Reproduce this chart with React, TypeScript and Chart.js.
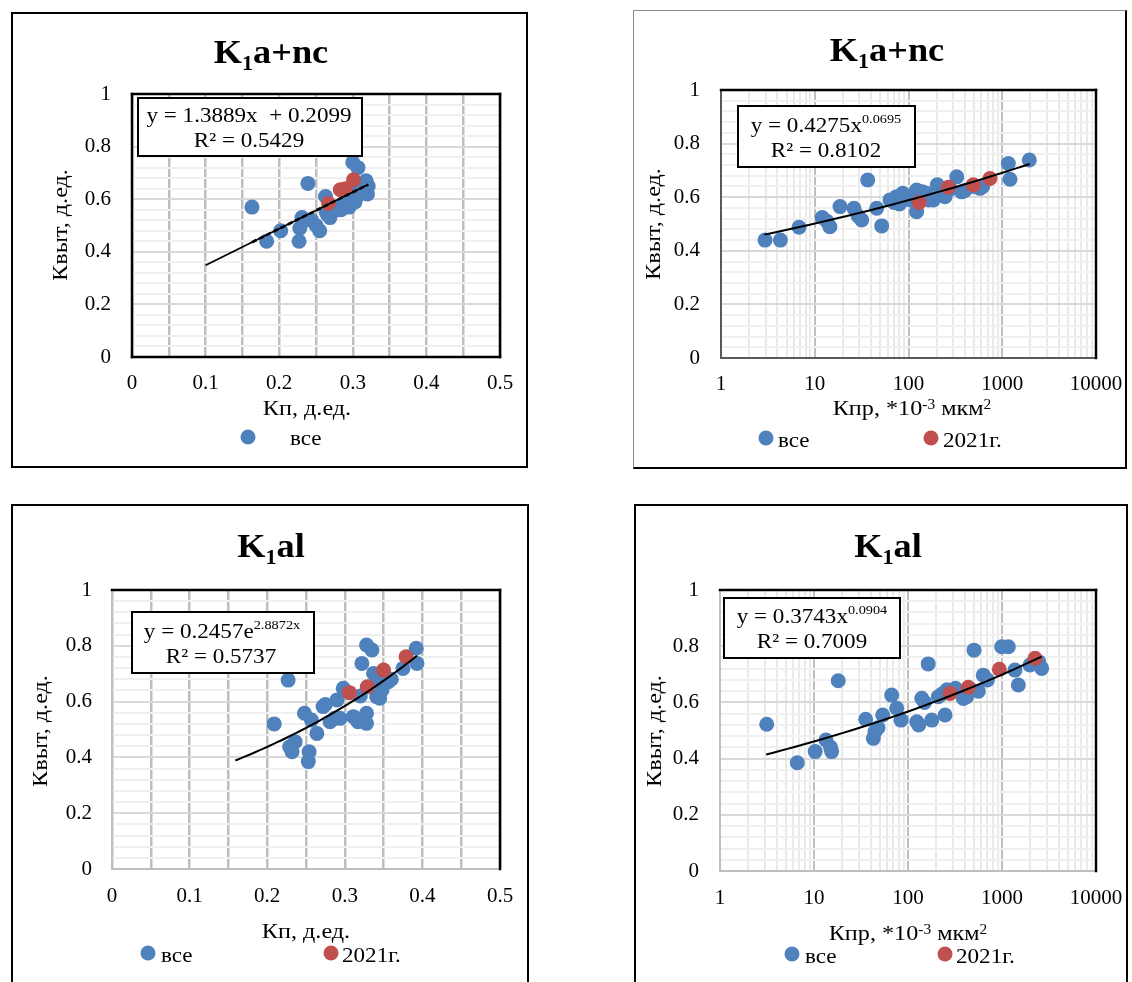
import React, { useEffect, useRef } from 'react';
import { Chart, registerables } from 'chart.js';

Chart.register(...registerables);

const FONT = '"Liberation Serif", "Times New Roman", Times, serif';
const BLUE = '#4F81BD';
const RED = '#C0504D';
const SX = 1.1;

// ---------------- data ----------------
// K1a+nc : Kп vs Kвыт
const TL_ALL_X = [0.163, 0.183, 0.202, 0.227, 0.228, 0.231, 0.235, 0.239, 0.244, 0.25, 0.255, 0.263, 0.264, 0.266, 0.269, 0.272, 0.275, 0.28, 0.284, 0.287, 0.291, 0.295, 0.298, 0.3, 0.303, 0.305, 0.307, 0.31, 0.314, 0.318, 0.32, 0.321];
const TL_ALL_Y = [0.57, 0.44, 0.48, 0.44, 0.49, 0.53, 0.52, 0.66, 0.52, 0.5, 0.48, 0.61, 0.55, 0.54, 0.53, 0.56, 0.57, 0.56, 0.56, 0.58, 0.6, 0.57, 0.61, 0.74, 0.59, 0.63, 0.72, 0.62, 0.64, 0.67, 0.62, 0.65];
const TL_RED_X = [0.267, 0.283, 0.29, 0.301];
const TL_RED_Y = [0.584, 0.636, 0.64, 0.674];

// K1a+nc : Kпр vs Kвыт
const TR_ALL_X = [2.95, 4.3, 6.8, 12.0, 13.5, 14.5, 18.6, 26.2, 29, 31.7, 36.7, 45.8, 51.8, 63.5, 70, 74.8, 80, 86.7, 95, 105, 115, 122, 122, 140, 156, 165, 184, 203, 225, 245, 280, 327, 369, 400, 480, 579, 620, 1161, 1210, 1944];
const TR_ALL_Y = [0.44, 0.44, 0.488, 0.524, 0.51, 0.49, 0.565, 0.559, 0.53, 0.515, 0.664, 0.559, 0.493, 0.59, 0.58, 0.602, 0.575, 0.615, 0.6, 0.59, 0.61, 0.627, 0.546, 0.62, 0.615, 0.59, 0.59, 0.646, 0.61, 0.602, 0.63, 0.676, 0.62, 0.625, 0.64, 0.633, 0.64, 0.726, 0.667, 0.739];
const TR_RED_X = [130, 266, 491, 740];
const TR_RED_Y = [0.58, 0.637, 0.646, 0.67];

// K1al : Kп vs Kвыт
const BL_ALL_X = [0.209, 0.227, 0.229, 0.232, 0.236, 0.248, 0.253, 0.254, 0.257, 0.264, 0.272, 0.275, 0.281, 0.287, 0.29, 0.294, 0.298, 0.3, 0.311, 0.317, 0.32, 0.322, 0.328, 0.328, 0.328, 0.335, 0.337, 0.341, 0.341, 0.345, 0.348, 0.356, 0.36, 0.375, 0.392, 0.393];
const BL_ALL_Y = [0.52, 0.677, 0.438, 0.42, 0.456, 0.558, 0.385, 0.42, 0.534, 0.486, 0.582, 0.59, 0.528, 0.54, 0.606, 0.54, 0.648, 0.64, 0.546, 0.528, 0.62, 0.737, 0.803, 0.522, 0.558, 0.785, 0.701, 0.618, 0.68, 0.612, 0.642, 0.671, 0.68, 0.719, 0.791, 0.737];
const BL_RED_X = [0.306, 0.329, 0.35, 0.379];
const BL_RED_Y = [0.632, 0.653, 0.713, 0.761];

// K1al : Kпр vs Kвыт
const BR_ALL_X = [3.14, 6.64, 10.3, 13.4, 15.4, 15.0, 18.1, 35.5, 42.8, 44.6, 48, 53.8, 67, 75.8, 84.3, 124, 130, 140, 150, 164, 179, 210, 230, 248, 260, 303, 320, 388, 420, 475, 504, 560, 632, 700, 993, 1167, 1374, 1493, 1986, 2450, 2644];
const BR_ALL_Y = [0.522, 0.385, 0.425, 0.466, 0.425, 0.44, 0.677, 0.54, 0.472, 0.496, 0.51, 0.555, 0.626, 0.579, 0.537, 0.531, 0.52, 0.615, 0.6, 0.737, 0.537, 0.62, 0.63, 0.555, 0.645, 0.644, 0.65, 0.614, 0.62, 0.644, 0.786, 0.64, 0.697, 0.68, 0.798, 0.798, 0.715, 0.662, 0.733, 0.745, 0.721];
const BR_RED_X = [280, 438, 937, 2244];
const BR_RED_Y = [0.632, 0.654, 0.718, 0.757];

// trendline equations (as printed on the chart) and their x ranges
const TL_FIT = { kind: 'lin', a: 1.3889, b: 0.2099 };
const TR_FIT = { kind: 'pow', a: 0.4275, b: 0.0695 };
const BL_FIT = { kind: 'exp', a: 0.2457, b: 2.8872 };
const BR_FIT = { kind: 'pow', a: 0.3743, b: 0.0904 };
const TL_TREND_RANGE = [0.1, 0.321];
const TL_TREND_DASH_RANGE = [0.163, 0.321];
const TR_TREND_RANGE = [2.9, 1960];
const BL_TREND_RANGE = [0.159, 0.393];
const BR_TREND_RANGE = [3.1, 2640];

// tick labels
const Y_LABELS = ['0', '0.2', '0.4', '0.6', '0.8', '1'];
const KP_LABELS = ['0', '0.1', '0.2', '0.3', '0.4', '0.5'];
const KPR_LABELS = ['1', '10', '100', '1000', '10000'];

const Y_TICKS = Array.from({ length: 26 }, (_, i) => Math.round(i * 4) / 100);
const KP_TICKS = Array.from({ length: 11 }, (_, i) => Math.round(i * 5) / 100);
const KPR_TICKS: number[] = [];
KPR_LABELS.forEach((lbl, d) => {
  const base = Number(lbl);
  if (d < KPR_LABELS.length - 1) for (let m = 1; m <= 9; m++) KPR_TICKS.push(m * base);
  else KPR_TICKS.push(base);
});

// ---------------- helpers ----------------
type Seg = { t: string; size: number; dy?: number; bold?: boolean };
const sg = (t: string, size = 21, dy = 0, bold = false): Seg => ({ t, size, dy, bold });

function fitY(fit: any, x: number) {
  if (fit.kind === 'lin') return fit.a * x + fit.b;
  if (fit.kind === 'pow') return fit.a * Math.pow(x, fit.b);
  return fit.a * Math.exp(fit.b * x);
}
function trendPts(fit: any, range: number[], log: boolean) {
  const n = fit.kind === 'lin' ? 2 : 40;
  const out: { x: number; y: number }[] = [];
  for (let i = 0; i < n; i++) {
    const f = i / (n - 1);
    const x = log
      ? Math.pow(10, Math.log10(range[0]) + f * (Math.log10(range[1]) - Math.log10(range[0])))
      : range[0] + f * (range[1] - range[0]);
    out.push({ x, y: fitY(fit, x) });
  }
  return out;
}
const pts = (xs: number[], ys: number[]) => xs.map((x, i) => ({ x, y: ys[i] }));

function fontOf(s: Seg) {
  return `${s.bold ? 'bold ' : ''}${s.size}px ${FONT}`;
}
function drawRich(ctx: CanvasRenderingContext2D, segs: Seg[], x: number, y: number, align: 'left' | 'center', rotate = false, baseline: CanvasTextBaseline = 'alphabetic') {
  ctx.save();
  ctx.textAlign = 'left';
  ctx.textBaseline = baseline;
  ctx.fillStyle = '#000';
  const widths = segs.map((s) => {
    ctx.font = fontOf(s);
    return ctx.measureText(s.t).width;
  });
  const total = widths.reduce((p, c) => p + c, 0);
  ctx.translate(x, y);
  if (rotate) ctx.rotate(-Math.PI / 2);
  ctx.scale(SX, 1);
  let cx = align === 'center' ? -total / 2 : 0;
  segs.forEach((s, i) => {
    ctx.font = fontOf(s);
    ctx.fillText(s.t, cx, s.dy || 0);
    cx += widths[i];
  });
  ctx.restore();
}

const titleSegs = (rest: string) => [sg('K', 33, 0, true), sg('1', 20, 7, true), sg(rest, 33, 0, true)];
const KP_TITLE = [sg('Кп, д.ед.', 22)];
const KPR_TITLE = [sg('Кпр, *10', 22), sg('-3', 14, -6), sg(' мкм', 22), sg('2', 14, -6)];
const Y_TITLE = [sg('Квыт, д.ед.', 22)];

// ---------------- panel specs (page coordinates) ----------------
const PANELS: any[] = [
  {
    box: { x: 11, y: 12, w: 517, h: 456 }, boxBorder: { t: '2px solid #000', r: '2px solid #000', b: '2px solid #000', l: '2px solid #000' },
    area: { l: 132, t: 94, r: 500, b: 357 }, frame: ['#000', '#000', '#000', '#000'],
    log: false, xTickPad: 14, yTickPad: 21,
    all: pts(TL_ALL_X, TL_ALL_Y), red: pts(TL_RED_X, TL_RED_Y),
    trends: [
      { data: trendPts(TL_FIT, TL_TREND_RANGE, false), dash: [], width: 1.8 },
      { data: trendPts(TL_FIT, TL_TREND_DASH_RANGE, false), dash: [5, 3], width: 2.6 },
    ],
    title: { segs: titleSegs('a+nc'), x: 271, y: 63 },
    eqBox: [138, 98, 362, 156],
    eq: [
      { segs: [sg('y = 1.3889x  + 0.2099')], x: 249, y: 122 },
      { segs: [sg('R² = 0.5429')], x: 249, y: 147 },
    ],
    xTitle: { segs: KP_TITLE, x: 307, y: 415 },
    yTitle: { x: 61, y: 225 },
    legend: [{ color: BLUE, label: 'все', mx: 248, my: 437, tx: 290, ty: 445 }],
  },
  {
    box: { x: 633, y: 10, w: 494, h: 459 }, boxBorder: { t: '1px solid #8c8c8c', r: '2px solid #000', b: '2px solid #000', l: '1px solid #8c8c8c' },
    area: { l: 721, t: 90, r: 1096, b: 358 }, frame: ['#000', '#000', '#595959', '#595959'],
    log: true, xTickPad: 14, yTickPad: 21,
    all: pts(TR_ALL_X, TR_ALL_Y), red: pts(TR_RED_X, TR_RED_Y),
    trends: [{ data: trendPts(TR_FIT, TR_TREND_RANGE, true), dash: [], width: 2 }],
    title: { segs: titleSegs('a+nc'), x: 887, y: 61 },
    eqBox: [738, 106, 915, 167],
    eq: [
      { segs: [sg('y = 0.4275x'), sg('0.0695', 13, -9)], x: 826, y: 132 },
      { segs: [sg('R² = 0.8102')], x: 826, y: 157 },
    ],
    xTitle: { segs: KPR_TITLE, x: 912, y: 415 },
    yTitle: { x: 654, y: 224 },
    legend: [
      { color: BLUE, label: 'все', mx: 766, my: 438, tx: 778, ty: 447 },
      { color: RED, label: '2021г.', mx: 931, my: 438, tx: 943, ty: 447 },
    ],
  },
  {
    box: { x: 11, y: 504, w: 518, h: 490 }, boxBorder: { t: '2px solid #000', r: '2px solid #000', b: '2px solid #000', l: '2px solid #000' },
    area: { l: 112, t: 590, r: 500, b: 869 }, frame: ['#000', '#000', '#BFBFBF', '#BFBFBF'],
    log: false, xTickPad: 15, yTickPad: 20,
    all: pts(BL_ALL_X, BL_ALL_Y), red: pts(BL_RED_X, BL_RED_Y),
    trends: [{ data: trendPts(BL_FIT, BL_TREND_RANGE, false), dash: [], width: 2 }],
    title: { segs: titleSegs('al'), x: 271, y: 557 },
    eqBox: [132, 612, 314, 673],
    eq: [
      { segs: [sg('y = 0.2457e'), sg('2.8872x', 13, -9)], x: 222, y: 638 },
      { segs: [sg('R² = 0.5737')], x: 221, y: 663 },
    ],
    xTitle: { segs: KP_TITLE, x: 306, y: 938 },
    yTitle: { x: 41, y: 731 },
    legend: [
      { color: BLUE, label: 'все', mx: 148, my: 953, tx: 161, ty: 962 },
      { color: RED, label: '2021г.', mx: 331, my: 953, tx: 342, ty: 962 },
    ],
  },
  {
    box: { x: 634, y: 504, w: 494, h: 490 }, boxBorder: { t: '2px solid #000', r: '2px solid #000', b: '2px solid #000', l: '2px solid #000' },
    area: { l: 720, t: 590, r: 1096, b: 871 }, frame: ['#000', '#000', '#BFBFBF', '#BFBFBF'],
    log: true, xTickPad: 15, yTickPad: 21,
    all: pts(BR_ALL_X, BR_ALL_Y), red: pts(BR_RED_X, BR_RED_Y),
    trends: [{ data: trendPts(BR_FIT, BR_TREND_RANGE, true), dash: [], width: 2 }],
    title: { segs: titleSegs('al'), x: 888, y: 557 },
    eqBox: [724, 598, 900, 658],
    eq: [
      { segs: [sg('y = 0.3743x'), sg('0.0904', 13, -9)], x: 812, y: 623 },
      { segs: [sg('R² = 0.7009')], x: 812, y: 648 },
    ],
    xTitle: { segs: KPR_TITLE, x: 908, y: 940 },
    yTitle: { x: 655, y: 731 },
    legend: [
      { color: BLUE, label: 'все', mx: 792, my: 954, tx: 805, ty: 963 },
      { color: RED, label: '2021г.', mx: 945, my: 954, tx: 956, ty: 963 },
    ],
  },
];

const PAGE_H = 982;

function isDecade(v: number) {
  return KPR_LABELS.includes(String(v));
}
function yLabel(v: number) {
  const s = String(Math.round(v * 100) / 100);
  return Y_LABELS.includes(s) ? s : '';
}

function buildConfig(p: any) {
  const ox = p.box.x;
  const oy = p.box.y;
  const cw = p.box.w;
  const ch = Math.min(p.box.h, PAGE_H - p.box.y);
  const a = p.area;

  const framePlugin = {
    id: 'frame',
    beforeDatasetsDraw(chart: any) {
      const { ctx, chartArea: c } = chart;
      const [top, right, bottom, left] = p.frame;
      ctx.save();
      ctx.lineCap = 'square';
      const line = (x1: number, y1: number, x2: number, y2: number, col: string) => {
        ctx.strokeStyle = col;
        ctx.lineWidth = col === '#000' ? 2.5 : 2;
        ctx.beginPath();
        ctx.moveTo(x1, y1);
        ctx.lineTo(x2, y2);
        ctx.stroke();
      };
      line(c.left, c.bottom, c.right, c.bottom, bottom);
      line(c.left, c.top, c.left, c.bottom, left);
      line(c.left, c.top, c.right, c.top, top);
      line(c.right, c.top, c.right, c.bottom, right);
      ctx.restore();
    },
  };

  const textPlugin = {
    id: 'texts',
    afterDraw(chart: any) {
      const ctx: CanvasRenderingContext2D = chart.ctx;
      ctx.save();
      ctx.translate(-ox, -oy);
      drawRich(ctx, p.title.segs, p.title.x, p.title.y, 'center');
      const [x1, y1, x2, y2] = p.eqBox;
      ctx.fillStyle = '#fff';
      ctx.fillRect(x1, y1, x2 - x1, y2 - y1);
      ctx.strokeStyle = '#000';
      ctx.lineWidth = 2;
      ctx.strokeRect(x1, y1, x2 - x1, y2 - y1);
      p.eq.forEach((l: any) => drawRich(ctx, l.segs, l.x, l.y, 'center'));
      drawRich(ctx, p.xTitle.segs, p.xTitle.x, p.xTitle.y, 'center');
      drawRich(ctx, Y_TITLE, p.yTitle.x, p.yTitle.y, 'center', true, 'middle');
      p.legend.forEach((it: any) => {
        ctx.fillStyle = it.color;
        ctx.beginPath();
        ctx.arc(it.mx, it.my, 7.5, 0, Math.PI * 2);
        ctx.fill();
        drawRich(ctx, [sg(it.label, 21)], it.tx, it.ty, 'left');
      });
      ctx.restore();
    },
  };

  const tickFont = { family: FONT, size: 21 };

  const datasets: any[] = [];
  p.trends.forEach((t: any, i: number) => {
    datasets.push({
      label: 'trend' + i,
      data: t.data,
      showLine: true,
      borderColor: '#000',
      borderWidth: t.width,
      borderDash: t.dash,
      pointRadius: 0,
      fill: false,
      tension: 0,
      order: 0,
    });
  });
  datasets.push({
    label: '2021г.',
    data: p.red,
    backgroundColor: RED,
    pointBackgroundColor: RED,
    pointBorderWidth: 0,
    pointRadius: 7.5,
    order: 1,
  });
  datasets.push({
    label: 'все',
    data: p.all,
    backgroundColor: BLUE,
    pointBackgroundColor: BLUE,
    pointBorderWidth: 0,
    pointRadius: 7.5,
    order: 2,
  });

  const xScale: any = p.log
    ? {
        type: 'logarithmic',
        min: 1,
        max: 10000,
        afterBuildTicks: (sc: any) => {
          sc.ticks = KPR_TICKS.map((v) => ({ value: v }));
        },
        ticks: {
          autoSkip: false,
          maxRotation: 0,
          minRotation: 0,
          padding: p.xTickPad,
          font: tickFont,
          color: '#000',
          callback: (v: number) => (isDecade(v) ? String(v) : ''),
        },
        grid: {
          drawTicks: false,
          color: (c: any) => (c.tick && isDecade(c.tick.value) ? '#BFBFBF' : '#EAEAEA'),
          lineWidth: 2,
        },
      }
    : {
        type: 'linear',
        min: 0,
        max: 0.5,
        afterBuildTicks: (sc: any) => {
          sc.ticks = KP_TICKS.map((v) => ({ value: v }));
        },
        ticks: {
          autoSkip: false,
          maxRotation: 0,
          minRotation: 0,
          padding: p.xTickPad,
          font: tickFont,
          color: '#000',
          callback: (v: number) => {
            const s = String(Math.round(v * 100) / 100);
            return KP_LABELS.includes(s) ? s : '';
          },
        },
        grid: { drawTicks: false, color: '#BFBFBF', lineWidth: 2.5 },
      };
  xScale.position = 'bottom';
  xScale.border = { display: false };
  xScale.afterFit = (sc: any) => {
    sc.height = oy + ch - a.b;
    sc.paddingLeft = 0;
    sc.paddingRight = 0;
  };

  return {
    type: 'scatter',
    data: { datasets },
    options: {
      responsive: false,
      animation: false,
      events: [],
      layout: { padding: { left: 0, top: a.t - oy, right: ox + cw - a.r, bottom: 0 } },
      plugins: {
        legend: { display: false },
        title: { display: false },
        tooltip: { enabled: false },
      },
      scales: {
        x: xScale,
        y: {
          type: 'linear',
          position: 'left',
          min: 0,
          max: 1,
          afterBuildTicks: (sc: any) => {
            sc.ticks = Y_TICKS.map((v) => ({ value: v }));
          },
          afterFit: (sc: any) => {
            sc.width = a.l - ox;
            sc.paddingTop = 0;
            sc.paddingBottom = 0;
          },
          border: { display: false },
          ticks: {
            autoSkip: false,
            padding: p.yTickPad,
            font: tickFont,
            color: '#000',
            callback: (v: number) => yLabel(v),
          },
          grid: {
            drawTicks: false,
            color: (c: any) => (c.tick && yLabel(c.tick.value) !== '' ? '#D9D9D9' : '#F0F0F0'),
            lineWidth: 2,
          },
        },
      },
    },
    plugins: [framePlugin, textPlugin],
  };
}

function Panel({ p }: { p: any }) {
  const ref = useRef<HTMLCanvasElement>(null);
  useEffect(() => {
    if (!ref.current) return;
    const chart = new Chart(ref.current, buildConfig(p) as any);
    return () => chart.destroy();
  }, [p]);
  const ch = Math.min(p.box.h, PAGE_H - p.box.y);
  return (
    <>
      <canvas
        ref={ref}
        width={p.box.w}
        height={ch}
        style={{ position: 'absolute', left: p.box.x, top: p.box.y, width: p.box.w, height: ch, display: 'block' }}
      />
      <div
        style={{
          position: 'absolute',
          left: p.box.x,
          top: p.box.y,
          width: p.box.w,
          height: p.box.h,
          boxSizing: 'border-box',
          borderTop: p.boxBorder.t,
          borderRight: p.boxBorder.r,
          borderBottom: p.boxBorder.b,
          borderLeft: p.boxBorder.l,
          pointerEvents: 'none',
        }}
      />
    </>
  );
}

export default function App() {
  return (
    <div
      style={{
        position: 'absolute',
        left: 0,
        top: 0,
        width: 1132,
        height: PAGE_H,
        overflow: 'hidden',
        background: '#fff',
      }}
    >
      {PANELS.map((p, i) => (
        <Panel key={i} p={p} />
      ))}
    </div>
  );
}
